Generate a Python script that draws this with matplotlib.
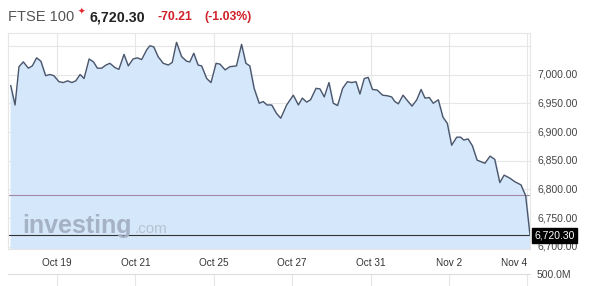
import matplotlib
matplotlib.use("Agg")
import matplotlib.pyplot as plt
import numpy as np

plt.rcParams['font.family'] = ['Liberation Sans', 'DejaVu Sans']

# trading days from Oct 19 open (Oct 19 = 0, Oct 20 = 1, ...), hourly-ish samples
days = [-1.18, -1.07, -0.97, -0.86, -0.73, -0.63, -0.52, -0.41, -0.29, -0.18,
        -0.08, 0.05, 0.16, 0.27, 0.38, 0.48, 0.59, 0.69, 0.82, 0.93,
        1.03, 1.14, 1.25, 1.35, 1.48, 1.58, 1.71, 1.82, 1.94, 2.05,
        2.16, 2.29, 2.37, 2.47, 2.58, 2.71, 2.84, 2.94, 3.05, 3.18,
        3.31, 3.39, 3.49, 3.60, 3.69, 3.82, 3.93, 4.06, 4.16, 4.29,
        4.41, 4.58, 4.71, 4.82, 4.92, 5.03, 5.16, 5.26, 5.36, 5.48,
        5.60, 5.71, 5.86, 6.03, 6.16, 6.26, 6.37, 6.47, 6.61, 6.71,
        6.82, 6.94, 7.05, 7.16, 7.29, 7.41, 7.52, 7.63, 7.73, 7.84,
        7.94, 8.05, 8.17, 8.31, 8.43, 8.54, 8.62, 8.71, 8.83, 8.96,
        9.06, 9.18, 9.29, 9.39, 9.50, 9.60, 9.73, 9.85, 9.96, 10.07,
        10.20, 10.30, 10.38, 10.49, 10.60, 10.72, 10.92, 11.05, 11.17, 11.30,
        11.41, 11.56, 11.68, 11.84, 11.96, 12.07]
prices = [6980.5, 6947, 7013.6, 7022, 7011, 7015, 7029, 7023, 6998, 7000,
          6998, 6987.5, 6986, 6989, 6986, 6989, 7000, 6993, 7027, 7022,
          7011, 7011, 7016.5, 7019.5, 7012, 7009, 7035, 7015, 7027, 7029,
          7026, 7043, 7050, 7048, 7031, 7019.5, 7016.5, 7021, 7056, 7031,
          7023, 7022, 7037, 7016.5, 7015, 6993, 6986, 7019.5, 7018, 7008,
          7013.6, 7015, 7052.5, 7019.5, 7015, 6976, 6950, 6953, 6947, 6947,
          6932.5, 6924, 6947, 6964, 6947, 6959, 6952, 6956, 6976, 6975,
          6961, 6986, 6950, 6946, 6976, 6987.5, 6986, 6987.5, 6966, 6993,
          6995, 6974, 6973, 6964, 6963, 6961, 6953, 6949, 6964, 6953,
          6945, 6956, 6974, 6959, 6960, 6950, 6956, 6925.6, 6915, 6877,
          6891, 6891, 6886, 6888, 6876, 6851, 6845.6, 6858, 6852.5, 6812,
          6825, 6819.5, 6813.6, 6808, 6789, 6720.3]

tick_days = [0, 2, 4, 6, 8, 10, 12]
tick_labels = ['Oct 19', 'Oct 21', 'Oct 25', 'Oct 27', 'Oct 31', 'Nov 2', 'Nov 4']
y_ticks = [6700, 6750, 6800, 6850, 6900, 6950, 7000, 7050]
prev_close = 6790.51
last = 6720.30

W, H = 600, 286
fig = plt.figure(figsize=(W / 100, H / 100), dpi=100)
fig.patch.set_facecolor('white')

left, right = 8 / W, 530 / W
ax = fig.add_axes([left, 1 - 249 / H, right - left, (249 - 33) / H])
ax.set_xlim(-1.25, 12.07)
ax.set_ylim(6696.5, 7072.2)

grid_c = '#e6e6e6'
for t in tick_days:
    ax.axvline(t, color=grid_c, lw=0.8, zorder=0)
for yv in y_ticks:
    ax.axhline(yv, color=grid_c, lw=0.8, zorder=0)

ax.fill_between(days, prices, 6696.5, color='#d5e7fa', zorder=1)
ax.plot(days, prices, color='#4c566b', lw=1.0, zorder=3)
ax.axhline(prev_close, color='#a08aa8', lw=0.8, zorder=2)
ax.axhline(last, color='#333333', lw=0.8, zorder=2, clip_on=False)

ax.set_xticks([])
ax.set_yticks([])
for s in ['top', 'left', 'bottom', 'right']:
    ax.spines[s].set_color('#e6e6e6')
    ax.spines[s].set_linewidth(0.8)

# right-hand price labels
for yv in y_ticks[:-1]:
    ax.annotate('{:,.2f}'.format(yv), xy=(1, yv), xycoords=('axes fraction', 'data'),
                xytext=(5.5, 0), textcoords='offset points', ha='left', va='center',
                fontsize=7.5, color='#444444')
ax.annotate('{:,.2f}'.format(last), xy=(1, last), xycoords=('axes fraction', 'data'),
            xytext=(3, 0), textcoords='offset points', ha='left', va='center',
            fontsize=7.5, color='white',
            bbox=dict(boxstyle='square,pad=0.25', fc='black', ec='black'))

# x labels
for t, lab in zip(tick_days, tick_labels):
    ha = 'right' if t == tick_days[-1] else 'center'
    ax.annotate(lab, xy=(t, 0), xycoords=('data', 'axes fraction'),
                xytext=(0, -10), textcoords='offset points', ha=ha, va='center',
                fontsize=7.2, color='#333333')

# watermark
ax.text(0.027, 0.075, 'investing', transform=ax.transAxes, fontsize=18,
        fontweight='bold', color='#a5b1c4', va='baseline', zorder=2)
ax.text(0.243, 0.075, '.com', transform=ax.transAxes, fontsize=11,
        color='#b7c2d2', va='baseline', zorder=2)

# volume pane (cut off)
vax = fig.add_axes([left, 0, right - left, (286 - 274) / H])
vax.set_xlim(-1.25, 12.07)
for t in tick_days:
    vax.axvline(t, color=grid_c, lw=0.8)
vax.set_xticks([])
vax.set_yticks([])
for s in ['left', 'right', 'bottom']:
    vax.spines[s].set_visible(False)
vax.spines['top'].set_color('#dddddd')
fig.text(537 / W, 1 - 275 / H, '500.0M', fontsize=7.5, color='#444444', va='center')

# header
fig.text(8 / W, 1 - 17 / H, 'FTSE 100', fontsize=10.5, color='#555555', va='center')
fig.text(78 / W, 1 - 12 / H, '\u2726', fontsize=6.5, color='#e0262f', va='center')
fig.text(90 / W, 1 - 17 / H, '6,720.30', fontsize=10.3, fontweight='bold',
         color='#222222', va='center')
fig.text(158 / W, 1 - 17 / H, '-70.21', fontsize=8.8, fontweight='bold',
         color='#d0202a', va='center')
fig.text(204 / W, 1 - 17 / H, '(-1.03%)', fontsize=8.8, fontweight='bold',
         color='#d0202a', va='center')

fig.savefig('out.png', dpi=100)
